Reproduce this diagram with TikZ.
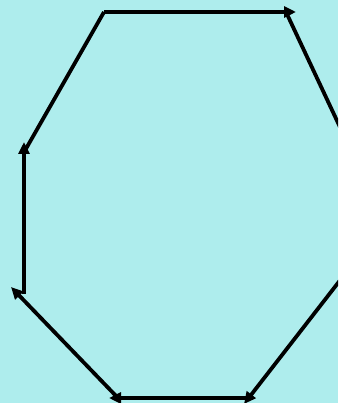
\documentclass[tikz,border=0pt]{standalone}
\usetikzlibrary{arrows.meta}
\definecolor{bgcyan}{RGB}{174,237,237}
\tikzset{
  edge/.style={line width=3.8pt, draw=black, line join=miter},
  arr/.style={edge, -{Triangle[length=12pt,width=11pt]}}
}
\begin{document}
\begin{tikzpicture}[x=1pt,y=-1pt]
\fill[bgcyan] (0,0) rectangle (338,403);
\useasboundingbox (0,0) rectangle (338,403);
\clip (0,0) rectangle (338,403);
\coordinate (a) at (104,12);
\coordinate (b) at (296,12);
\coordinate (c1) at (286,12);
\coordinate (c2) at (362,174);
\coordinate (d1) at (362,252);
\coordinate (d2) at (244,404);
\coordinate (e1) at (250,398);
\coordinate (e2) at (109,398);
\coordinate (f1) at (118,398);
\coordinate (f2) at (11,287);
\coordinate (g1) at (24,294);
\coordinate (g2) at (24,142);
\coordinate (h1) at (23,154);
\draw[arr] (a) -- (b);
\draw[edge] (c1) -- (c2);
\draw[arr] (d1) -- (d2);
\draw[arr] (e1) -- (e2);
\draw[arr] (f1) -- (f2);
\draw[arr] (g1) -- (g2);
\draw[edge] (h1) -- (a);
\end{tikzpicture}
\end{document}
